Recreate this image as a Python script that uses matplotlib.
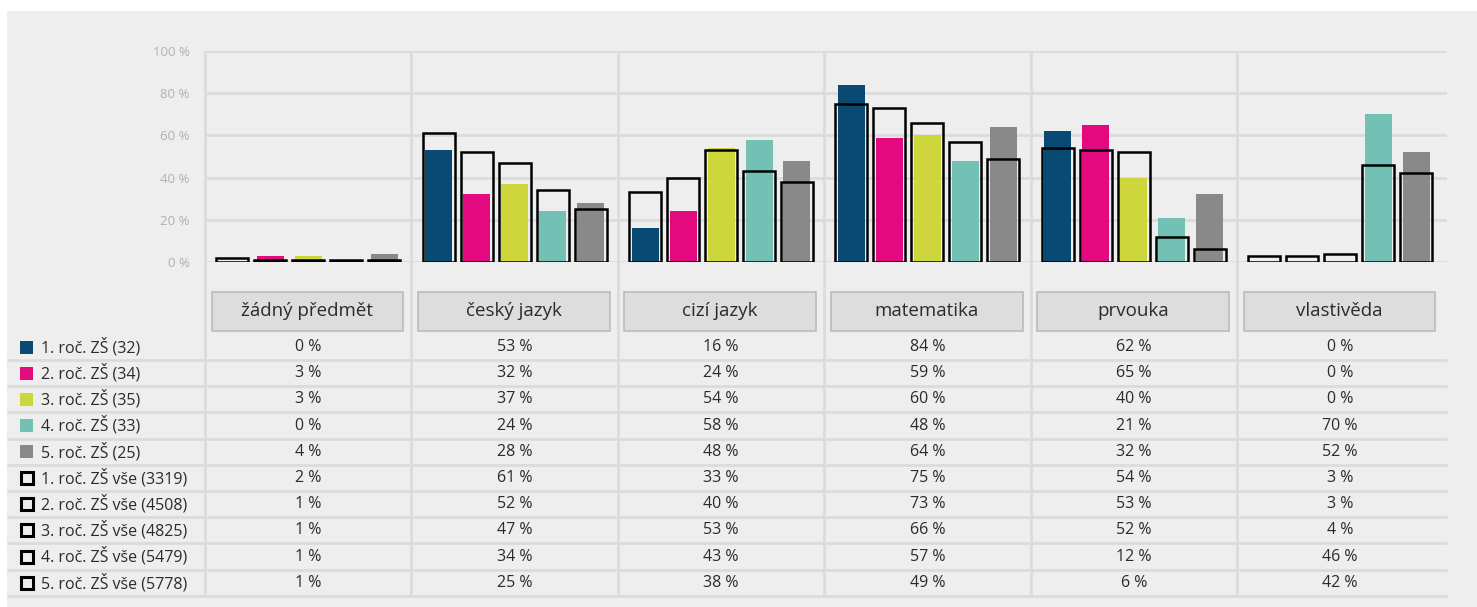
"""
Předměty podle ročníku ZŠ
=========================
Grouped bar chart (sample vs. all schools) with a data table underneath.
"""

import matplotlib.pyplot as plt
from matplotlib.patches import Rectangle

plt.rcParams["font.family"] = ["Open Sans", "DejaVu Sans"]

# ---------------------------------------------------------------------------
# Data
# ---------------------------------------------------------------------------

categories = ["žádný předmět", "český jazyk", "cizí jazyk",
              "matematika", "prvouka", "vlastivěda"]

sample_labels = ["1. roč. ZŠ (32)", "2. roč. ZŠ (34)", "3. roč. ZŠ (35)",
                 "4. roč. ZŠ (33)", "5. roč. ZŠ (25)"]
all_labels = ["1. roč. ZŠ vše (3319)", "2. roč. ZŠ vše (4508)",
              "3. roč. ZŠ vše (4825)", "4. roč. ZŠ vše (5479)",
              "5. roč. ZŠ vše (5778)"]

sample_1 = [0, 53, 16, 84, 62, 0]
sample_2 = [3, 32, 24, 59, 65, 0]
sample_3 = [3, 37, 54, 60, 40, 0]
sample_4 = [0, 24, 58, 48, 21, 70]
sample_5 = [4, 28, 48, 64, 32, 52]

all_1 = [2, 61, 33, 75, 54, 3]
all_2 = [1, 52, 40, 73, 53, 3]
all_3 = [1, 47, 53, 66, 52, 4]
all_4 = [1, 34, 43, 57, 12, 46]
all_5 = [1, 25, 38, 49, 6, 42]

sample_values = [sample_1, sample_2, sample_3, sample_4, sample_5]
all_values = [all_1, all_2, all_3, all_4, all_5]

yticks = [0, 20, 40, 60, 80, 100]

COLOURS = ["#094a73", "#e3097f", "#cdd73c", "#72c1b4", "#898989"]
PANEL = "#eeeeee"
GRID = "#dcdcdc"
TEXT = "#2b2b2b"

# ---------------------------------------------------------------------------
# Layout (pixels of a 1477 x 607 canvas)
# ---------------------------------------------------------------------------

W, H = 1477, 607
PLOT_L, PLOT_R = 205, 1447
PLOT_TOP, PLOT_BOT = 51, 262
CAT_W = 206.4
ROW_H = 26.2
ROW0 = 347          # centre of first table row
TABLE_BOT = 596

fig = plt.figure(figsize=(W / 100, H / 100), dpi=100)
fig.patch.set_facecolor("white")

# background axes in pixel coordinates for panel + table
bg = fig.add_axes([0, 0, 1, 1])
bg.set_xlim(0, W)
bg.set_ylim(H, 0)
bg.axis("off")
bg.add_patch(Rectangle((7, 11), W - 7, H - 11, facecolor=PANEL,
                       edgecolor="none", zorder=0))

# vertical category separators (through chart and table)
for i in range(len(categories)):
    x = PLOT_L + CAT_W * i
    bg.plot([x, x], [PLOT_TOP, TABLE_BOT], color=GRID, lw=2, zorder=1,
            solid_capstyle="butt")

# category header boxes
for i, cat in enumerate(categories):
    x0 = PLOT_L + CAT_W * i + 6.5
    bg.add_patch(Rectangle((x0, 291.5), CAT_W - 14.5, 39, facecolor="#dddddd",
                           edgecolor="#bbbbbb", lw=1.2, zorder=2))
    bg.text(x0 + (CAT_W - 14.5) / 2, 311, cat, ha="center", va="center",
            fontsize=13.5, color=TEXT, zorder=3)

# table rows
row_labels = sample_labels + all_labels
row_values = sample_values + all_values
for r, (label, vals) in enumerate(zip(row_labels, row_values)):
    yc = ROW0 + ROW_H * r
    yline = yc + 13
    bg.plot([7, PLOT_R], [yline, yline], color=GRID, lw=2, zorder=1,
            solid_capstyle="butt")
    if r < 5:
        bg.add_patch(Rectangle((20, yc - 6.5), 13, 13, facecolor=COLOURS[r],
                               edgecolor="none", zorder=3))
    else:
        bg.add_patch(Rectangle((21, yc - 6), 12, 12, facecolor="none",
                               edgecolor="black", lw=2.2, zorder=3))
    bg.text(41, yc, label, ha="left", va="center", fontsize=11.5,
            color=TEXT, zorder=3)
    for i, v in enumerate(vals):
        bg.text(PLOT_L + CAT_W * (i + 0.5), yc, f"{v} %", ha="center",
                va="center", fontsize=11.5, color=TEXT, zorder=3)

# ---------------------------------------------------------------------------
# Bar chart
# ---------------------------------------------------------------------------

ax = fig.add_axes([PLOT_L / W, 1 - PLOT_BOT / H,
                   (PLOT_R - PLOT_L) / W, (PLOT_BOT - PLOT_TOP) / H])
ax.set_facecolor("none")
ax.set_xlim(0, (PLOT_R - PLOT_L) / CAT_W)
ax.set_ylim(0, 100)

step = 38 / CAT_W
fill_w = 27 / CAT_W
edge_w = 32 / CAT_W
for j in range(5):
    xs = [i + 0.5 + (j - 2) * step for i in range(len(categories))]
    ax.bar(xs, sample_values[j], width=fill_w, color=COLOURS[j],
           linewidth=0, zorder=2)
    ax.bar(xs, all_values[j], width=edge_w, facecolor="none",
           edgecolor="black", linewidth=1.8, zorder=3)

ax.set_yticks(yticks)
ax.set_yticklabels([f"{t} %" for t in yticks], fontsize=9.5, color="#b0b0b0")
ax.tick_params(axis="y", length=0, pad=11)
ax.set_xticks([])
ax.grid(axis="y", color=GRID, lw=2, zorder=0)
ax.set_axisbelow(True)
for s in ax.spines.values():
    s.set_visible(False)

plt.savefig("out.png", dpi=100, facecolor=fig.get_facecolor())
plt.close()
